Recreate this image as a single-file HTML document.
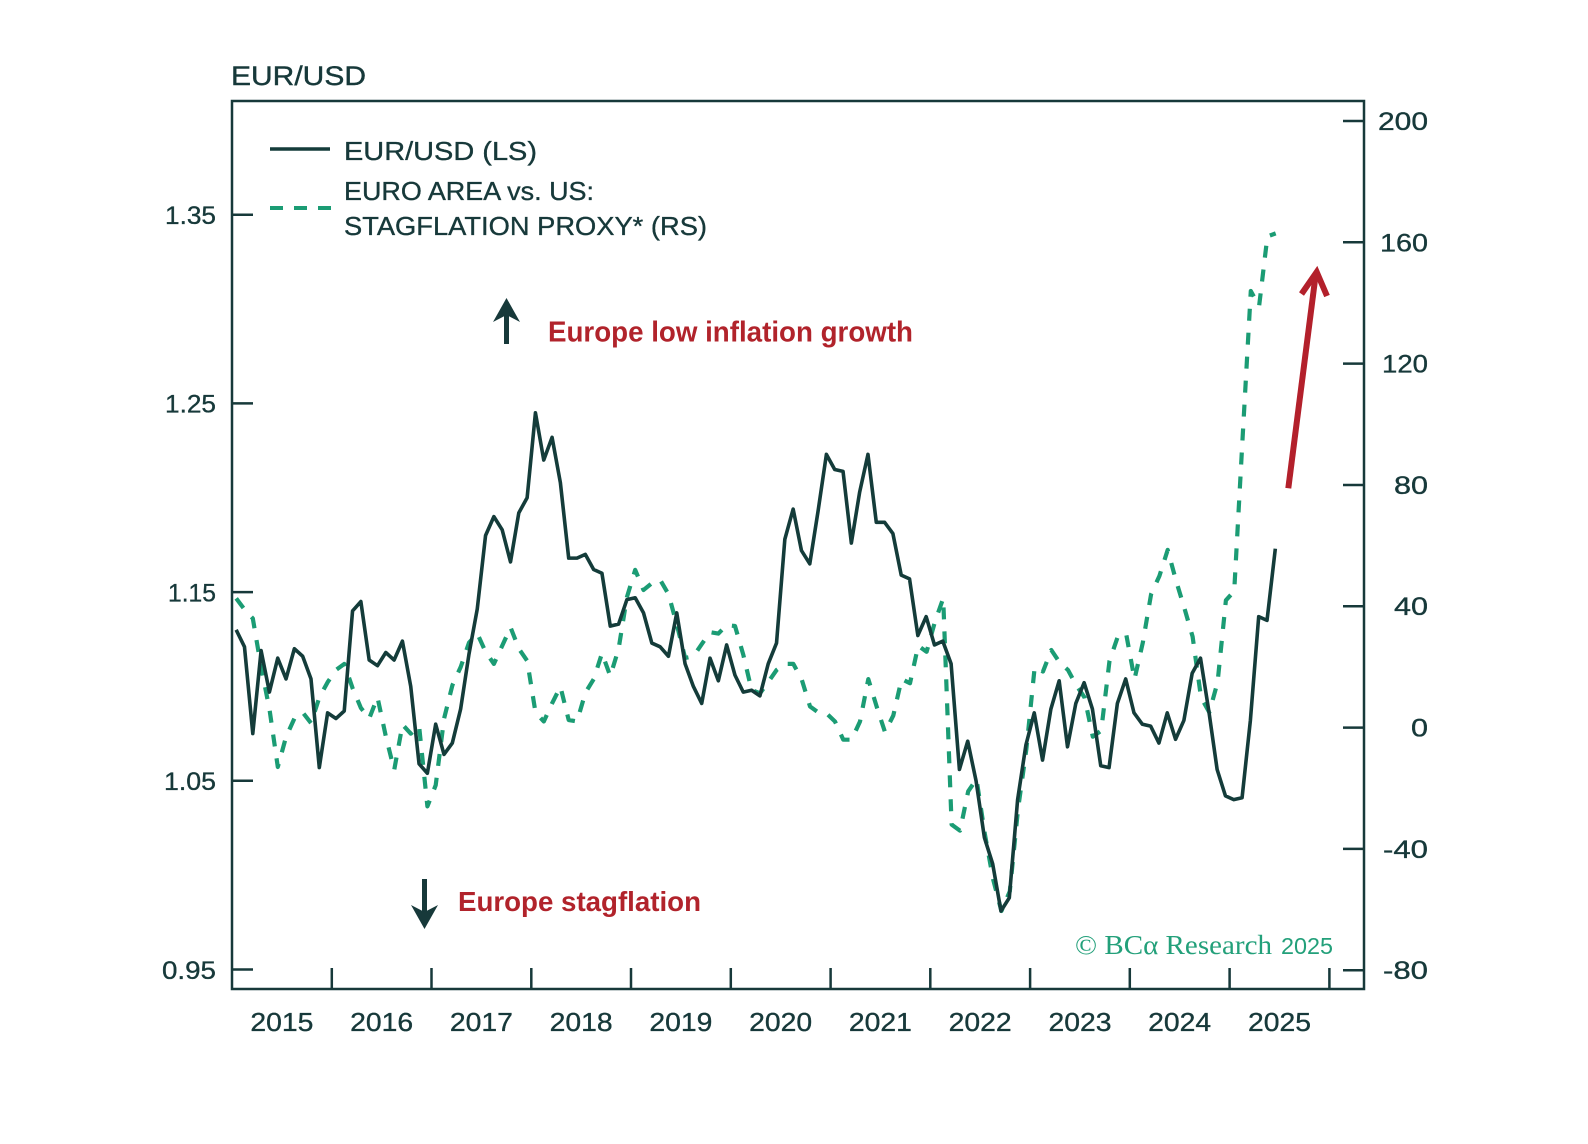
<!DOCTYPE html>
<html>
<head>
<meta charset="utf-8">
<style>
html,body{margin:0;padding:0;background:#ffffff;width:1588px;height:1144px;overflow:hidden}
svg{display:block}
</style>
</head>
<body>
<svg width="1588" height="1144" viewBox="0 0 1588 1144" xmlns="http://www.w3.org/2000/svg" font-family="'Liberation Sans', sans-serif">
<rect width="1588" height="1144" fill="#ffffff"/>

<!-- Title -->
<text x="231" y="85" font-size="27" fill="#17393a" stroke="#17393a" stroke-width="0.4" textLength="135" lengthAdjust="spacingAndGlyphs">EUR/USD</text>

<!-- Frame -->
<rect x="232" y="101" width="1132" height="888" fill="none" stroke="#17393a" stroke-width="2.5"/>

<!-- Left ticks -->
<g stroke="#17393a" stroke-width="2.5">
<line x1="232" y1="214.7" x2="253" y2="214.7"/>
<line x1="232" y1="403.4" x2="253" y2="403.4"/>
<line x1="232" y1="592.1" x2="253" y2="592.1"/>
<line x1="232" y1="780.8" x2="253" y2="780.8"/>
<line x1="232" y1="969.5" x2="253" y2="969.5"/>
</g>
<g font-size="25" fill="#17393a" stroke="#17393a" stroke-width="0.35" text-anchor="end">
<text x="216" y="224" textLength="51" lengthAdjust="spacingAndGlyphs">1.35</text>
<text x="216" y="412.7" textLength="51" lengthAdjust="spacingAndGlyphs">1.25</text>
<text x="216" y="601.4" textLength="48" lengthAdjust="spacingAndGlyphs">1.15</text>
<text x="216" y="790.1" textLength="52" lengthAdjust="spacingAndGlyphs">1.05</text>
<text x="216" y="978.8" textLength="54" lengthAdjust="spacingAndGlyphs">0.95</text>
</g>

<!-- Right ticks -->
<g stroke="#17393a" stroke-width="2.5">
<line x1="1343" y1="121" x2="1364" y2="121"/>
<line x1="1343" y1="242.3" x2="1364" y2="242.3"/>
<line x1="1343" y1="363.6" x2="1364" y2="363.6"/>
<line x1="1343" y1="485" x2="1364" y2="485"/>
<line x1="1343" y1="606.2" x2="1364" y2="606.2"/>
<line x1="1343" y1="727.6" x2="1364" y2="727.6"/>
<line x1="1343" y1="848.9" x2="1364" y2="848.9"/>
<line x1="1343" y1="970.2" x2="1364" y2="970.2"/>
</g>
<g font-size="25" fill="#17393a" stroke="#17393a" stroke-width="0.35" text-anchor="end">
<text x="1428" y="130" textLength="50" lengthAdjust="spacingAndGlyphs">200</text>
<text x="1428" y="251.3" textLength="48" lengthAdjust="spacingAndGlyphs">160</text>
<text x="1428" y="372.6" textLength="46" lengthAdjust="spacingAndGlyphs">120</text>
<text x="1428" y="494" textLength="34" lengthAdjust="spacingAndGlyphs">80</text>
<text x="1428" y="615.2" textLength="34" lengthAdjust="spacingAndGlyphs">40</text>
<text x="1428" y="736.6" textLength="17" lengthAdjust="spacingAndGlyphs">0</text>
<text x="1428" y="857.9" textLength="45" lengthAdjust="spacingAndGlyphs">-40</text>
<text x="1428" y="979.2" textLength="45" lengthAdjust="spacingAndGlyphs">-80</text>
</g>

<!-- Bottom ticks -->
<g stroke="#17393a" stroke-width="2.5">
<line x1="331.8" y1="968" x2="331.8" y2="989"/>
<line x1="431.5" y1="968" x2="431.5" y2="989"/>
<line x1="531.3" y1="968" x2="531.3" y2="989"/>
<line x1="631.0" y1="968" x2="631.0" y2="989"/>
<line x1="730.8" y1="968" x2="730.8" y2="989"/>
<line x1="830.6" y1="968" x2="830.6" y2="989"/>
<line x1="930.3" y1="968" x2="930.3" y2="989"/>
<line x1="1030.1" y1="968" x2="1030.1" y2="989"/>
<line x1="1129.8" y1="968" x2="1129.8" y2="989"/>
<line x1="1229.6" y1="968" x2="1229.6" y2="989"/>
<line x1="1329.4" y1="968" x2="1329.4" y2="989"/>
</g>
<g font-size="26" fill="#17393a" stroke="#17393a" stroke-width="0.35" text-anchor="middle">
<text x="281.9" y="1031" textLength="63" lengthAdjust="spacingAndGlyphs">2015</text>
<text x="381.6" y="1031" textLength="63" lengthAdjust="spacingAndGlyphs">2016</text>
<text x="481.4" y="1031" textLength="63" lengthAdjust="spacingAndGlyphs">2017</text>
<text x="581.2" y="1031" textLength="63" lengthAdjust="spacingAndGlyphs">2018</text>
<text x="680.9" y="1031" textLength="63" lengthAdjust="spacingAndGlyphs">2019</text>
<text x="780.7" y="1031" textLength="63" lengthAdjust="spacingAndGlyphs">2020</text>
<text x="880.4" y="1031" textLength="63" lengthAdjust="spacingAndGlyphs">2021</text>
<text x="980.2" y="1031" textLength="63" lengthAdjust="spacingAndGlyphs">2022</text>
<text x="1080.0" y="1031" textLength="63" lengthAdjust="spacingAndGlyphs">2023</text>
<text x="1179.7" y="1031" textLength="63" lengthAdjust="spacingAndGlyphs">2024</text>
<text x="1279.5" y="1031" textLength="63" lengthAdjust="spacingAndGlyphs">2025</text>
</g>

<!-- Legend -->
<line x1="270" y1="149" x2="330" y2="149" stroke="#143c3a" stroke-width="3.5"/>
<g font-size="26" fill="#17393a" stroke="#17393a" stroke-width="0.35">
<text x="344" y="160" textLength="193" lengthAdjust="spacingAndGlyphs">EUR/USD (LS)</text>
<text x="344" y="200" textLength="250" lengthAdjust="spacingAndGlyphs">EURO AREA vs. US:</text>
<text x="344" y="235" textLength="363" lengthAdjust="spacingAndGlyphs">STAGFLATION PROXY* (RS)</text>
</g>
<line x1="270" y1="208" x2="331" y2="208" stroke="#1b9c74" stroke-width="4" stroke-dasharray="13 11"/>

<!-- Annotations -->
<line x1="506.5" y1="344" x2="506.5" y2="310" stroke="#17393a" stroke-width="5"/>
<polygon points="506.5,298 520,322 506.5,315 493,322" fill="#17393a"/>
<text x="548" y="341.5" font-size="29" font-weight="bold" fill="#b1232b" textLength="365" lengthAdjust="spacingAndGlyphs">Europe low inflation growth</text>

<line x1="424.5" y1="879" x2="424.5" y2="916" stroke="#17393a" stroke-width="5"/>
<polygon points="424.5,929 438,905 424.5,912 411,905" fill="#17393a"/>
<text x="458" y="911" font-size="28" font-weight="bold" fill="#b1232b" textLength="243" lengthAdjust="spacingAndGlyphs">Europe stagflation</text>

<!-- Red arrow -->
<line x1="1288.3" y1="488.3" x2="1315.5" y2="276" stroke="#b3202b" stroke-width="6"/>
<polyline points="1301.5,294 1316.7,272 1327,296" fill="none" stroke="#b3202b" stroke-width="6" stroke-linejoin="miter"/>

<!-- Green dashed series (RS) -->
<polyline fill="none" stroke="#1b9c74" stroke-width="4.2" stroke-dasharray="12 12" stroke-linejoin="round"
points="236.2,598.4 244.5,609.4 252.8,618.4 261.1,667.0 269.5,709.4 277.8,767.0 286.1,736.7 294.4,718.5 302.7,712.4 311.0,723.1 319.4,697.3 327.7,682.1 336.0,670.0 344.3,663.9 352.6,688.2 360.9,707.9 369.2,718.5 377.5,697.3 385.9,736.7 394.2,770.0 402.5,724.6 410.8,733.7 419.1,726.1 427.4,806.4 435.7,785.2 444.1,718.5 452.4,685.2 460.7,667.0 469.0,642.7 477.3,633.6 485.6,651.8 493.9,663.9 502.2,645.7 510.6,627.5 518.9,648.8 527.2,660.9 535.5,712.4 543.8,721.5 552.1,703.3 560.4,686.7 568.7,720.0 577.0,721.5 585.4,692.7 593.7,679.1 602.0,653.3 610.3,676.1 618.6,648.8 626.9,597.2 635.2,569.9 643.5,590.0 651.8,583.3 660.2,579.9 668.5,594.2 676.8,624.5 685.1,657.9 693.4,656.3 701.7,644.2 710.0,632.1 718.3,633.6 726.7,625.1 735.0,626.0 743.3,654.8 751.6,690.0 760.0,693.3 768.2,682.1 776.6,670.0 785.0,663.9 793.3,663.9 801.6,679.1 810.0,706.4 818.2,712.4 826.6,713.4 835.0,721.5 843.3,739.7 851.6,739.7 860.0,721.5 868.3,679.1 876.6,706.4 885.0,732.1 893.3,715.5 901.6,679.1 910.0,683.3 918.2,645.7 926.6,651.8 935.0,621.5 943.2,598.4 951.6,824.6 960.0,830.7 968.2,791.3 976.5,779.1 984.8,833.7 993.1,879.2 1001.4,911.0 1009.8,891.3 1018.0,809.5 1026.4,748.8 1034.7,667.0 1043.0,671.5 1051.3,650.0 1059.6,662.4 1068.0,670.0 1076.2,685.2 1084.5,697.3 1092.8,736.7 1101.2,730.6 1109.5,660.9 1117.8,636.6 1126.1,633.6 1134.5,679.1 1142.8,642.7 1151.1,594.2 1159.4,576.0 1167.7,549.9 1176.0,580.5 1184.3,607.8 1192.6,636.6 1201.0,697.3 1209.3,712.4 1217.6,682.1 1225.9,600.3 1234.2,591.2 1242.5,439.6 1250.8,291.0 1259.1,306.2 1267.4,236.4 1275.7,233.4"/>

<!-- EUR/USD solid series (LS) -->
<g transform="translate(236.16,2762.15) scale(8.3133,-1887)">
<polyline fill="none" stroke="#143c3a" stroke-width="3.6" stroke-linejoin="round" vector-effect="non-scaling-stroke"
points="0,1.130 1,1.121 2,1.075 3,1.119 4,1.097 5,1.115 6,1.104 7,1.120 8,1.116 9,1.104 10,1.057 11,1.086 12,1.083 13,1.087 14,1.140 15,1.145 16,1.114 17,1.111 18,1.118 19,1.114 20,1.124 21,1.100 22,1.059 23,1.054 24,1.080 25,1.064 26,1.070 27,1.088 28,1.117 29,1.141 30,1.180 31,1.190 32,1.183 33,1.166 34,1.192 35,1.200 36,1.245 37,1.220 38,1.232 39,1.208 40,1.168 41,1.168 42,1.170 43,1.162 44,1.160 45,1.132 46,1.133 47,1.146 48,1.147 49,1.139 50,1.123 51,1.121 52,1.116 53,1.139 54,1.112 55,1.100 56,1.091 57,1.115 58,1.103 59,1.122 60,1.106 61,1.097 62,1.098 63,1.095 64,1.112 65,1.123 66,1.178 67,1.194 68,1.172 69,1.165 70,1.193 71,1.223 72,1.215 73,1.214 74,1.176 75,1.203 76,1.223 77,1.187 78,1.187 79,1.181 80,1.159 81,1.157 82,1.127 83,1.137 84,1.122 85,1.124 86,1.112 87,1.056 88,1.071 89,1.050 90,1.020 91,1.006 92,0.981 93,0.988 94,1.040 95,1.069 96,1.086 97,1.061 98,1.088 99,1.103 100,1.068 101,1.091 102,1.102 103,1.088 104,1.058 105,1.057 106,1.091 107,1.104 108,1.086 109,1.080 110,1.079 111,1.070 112,1.086 113,1.072 114,1.082 115,1.107 116,1.115 117,1.087 118,1.056 119,1.042 120,1.040 121,1.041 122,1.082 123,1.137 124,1.135 125,1.173"/>
</g>

<!-- Copyright -->
<text x="1075" y="954" font-family="'Liberation Serif', serif" font-size="27" fill="#23a07a" textLength="197" lengthAdjust="spacingAndGlyphs">© BCα Research</text>
<text x="1281" y="954" font-size="23" fill="#23a07a" textLength="52" lengthAdjust="spacingAndGlyphs">2025</text>
</svg>
</body>
</html>
